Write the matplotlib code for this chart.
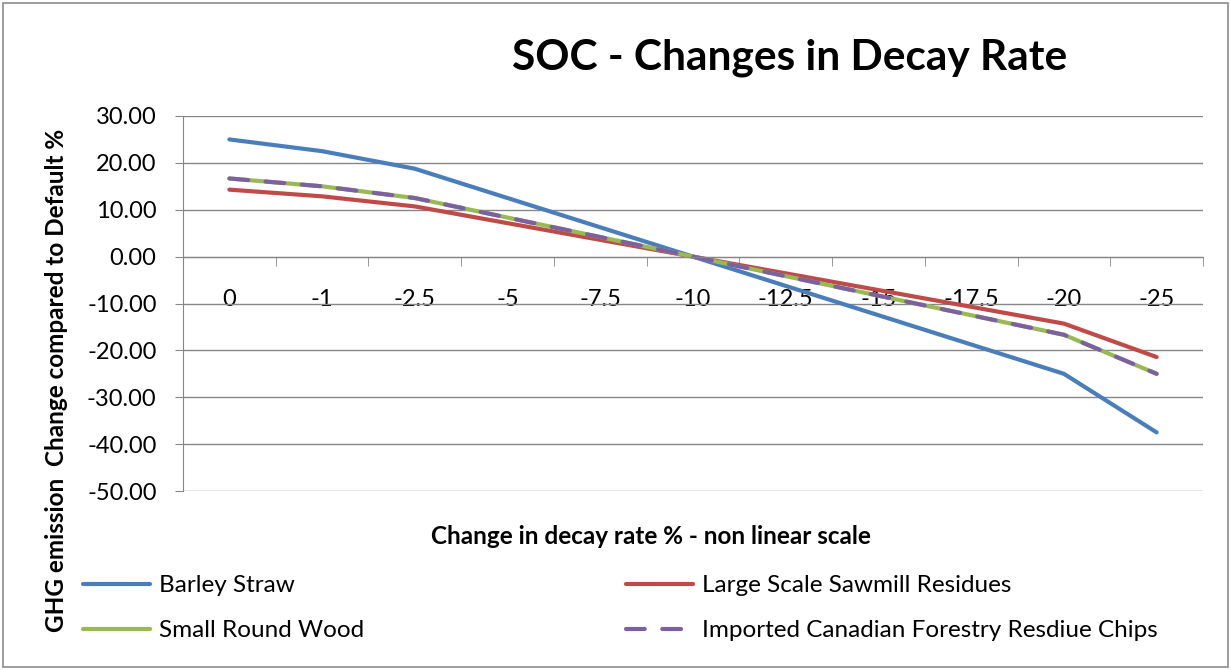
import numpy as np
import matplotlib
matplotlib.use("Agg")
import matplotlib.pyplot as plt
from matplotlib.patches import Rectangle

# data
categories = ["0", "-1", "-2.5", "-5", "-7.5", "-10", "-12.5", "-15", "-17.5", "-20", "-25"]
barley_straw = [25.0, 22.5, 18.75, 12.5, 6.25, 0.0, -6.25, -12.5, -18.75, -25.0, -37.5]
sawmill_residues = [14.29, 12.86, 10.71, 7.14, 3.57, 0.0, -3.57, -7.14, -10.71, -14.29, -21.43]
small_round_wood = [16.67, 15.0, 12.5, 8.33, 4.17, 0.0, -4.17, -8.33, -12.5, -16.67, -25.0]
canadian_chips = [16.67, 15.0, 12.5, 8.33, 4.17, 0.0, -4.17, -8.33, -12.5, -16.67, -25.0]
y_ticks = [30, 20, 10, 0, -10, -20, -30, -40, -50]

FONT = ["Lato", "DejaVu Sans"]
plt.rcParams["font.family"] = FONT
GRID = "#878787"

W, H = 1231, 670
fig = plt.figure(figsize=(W / 100, H / 100), dpi=100)
fig.patches.append(Rectangle((3 / W, 3 / H), 1 - 6 / W, 1 - 6 / H, transform=fig.transFigure,
                             fill=False, edgecolor="#8c8c8c", linewidth=1.2))

ax = fig.add_axes([183 / W, 1 - 491 / H, (1203 - 183) / W, (491 - 116) / H])
x = np.arange(len(categories))

lw = 3.0
l1, = ax.plot(x, barley_straw, color="#4A7EBB", lw=lw, solid_capstyle="round", solid_joinstyle="round")
l2, = ax.plot(x, sawmill_residues, color="#BE4B48", lw=lw, solid_capstyle="round", solid_joinstyle="round")
l3, = ax.plot(x, small_round_wood, color="#98B954", lw=lw, solid_capstyle="round", solid_joinstyle="round")
l4, = ax.plot(x, canadian_chips, color="#7D60A0", lw=lw, dashes=(4.5, 4.2),
              dash_capstyle="round", dash_joinstyle="round")

ax.set_xlim(-0.5, len(categories) - 0.5)
ax.set_ylim(-50, 30)
ax.spines["bottom"].set_position(("data", 0))
ax.spines["bottom"].set_color(GRID)
ax.spines["left"].set_color(GRID)
ax.spines["top"].set_visible(False)
ax.spines["right"].set_visible(False)

ax.set_yticks(y_ticks)
ax.set_yticklabels([f"{v:.2f}" for v in y_ticks])
ax.grid(axis="y", color=GRID, lw=1.0)
ax.set_axisbelow(True)

# category axis crosses at zero, labels hang below
ax.set_xticks(x)
ax.set_xticklabels(categories)
ax.set_xticks(np.arange(0.5, len(categories) - 0.5 + 1, 1), minor=True)
ax.tick_params(axis="x", which="major", length=0, pad=23, labelsize=17)
ax.tick_params(axis="x", which="minor", length=6.5, color=GRID, direction="out")
ax.tick_params(axis="y", length=6, color=GRID, pad=13, labelsize=17)

fig.text(790 / W, 1 - 58 / H, "SOC - Changes in Decay Rate", fontsize=30.5, fontweight="bold",
         ha="center", va="center")
fig.text(57 / W, 1 - 380 / H, "GHG emission  Change compared to Default %", fontsize=17.5,
         fontweight="bold", rotation=90, ha="center", va="center")
fig.text(651 / W, 1 - 537 / H, "Change in decay rate % - non linear scale", fontsize=17.5,
         fontweight="bold", ha="center", va="center")

leg_kw = dict(frameon=False, fontsize=17.5, handlelength=2.75, handletextpad=0.37,
              labelspacing=1.0, borderpad=0, borderaxespad=0, loc="upper left")
leg1 = fig.legend([l1, l3], ["Barley Straw", "Small Round Wood"],
                  bbox_to_anchor=(83 / W, 1 - 575 / H), **leg_kw)
leg2 = fig.legend([l2, l4], ["Large Scale Sawmill Residues", "Imported Canadian Forestry Resdiue Chips"],
                  bbox_to_anchor=(626 / W, 1 - 575 / H), **leg_kw)

fig.savefig("out.png", dpi=100)
